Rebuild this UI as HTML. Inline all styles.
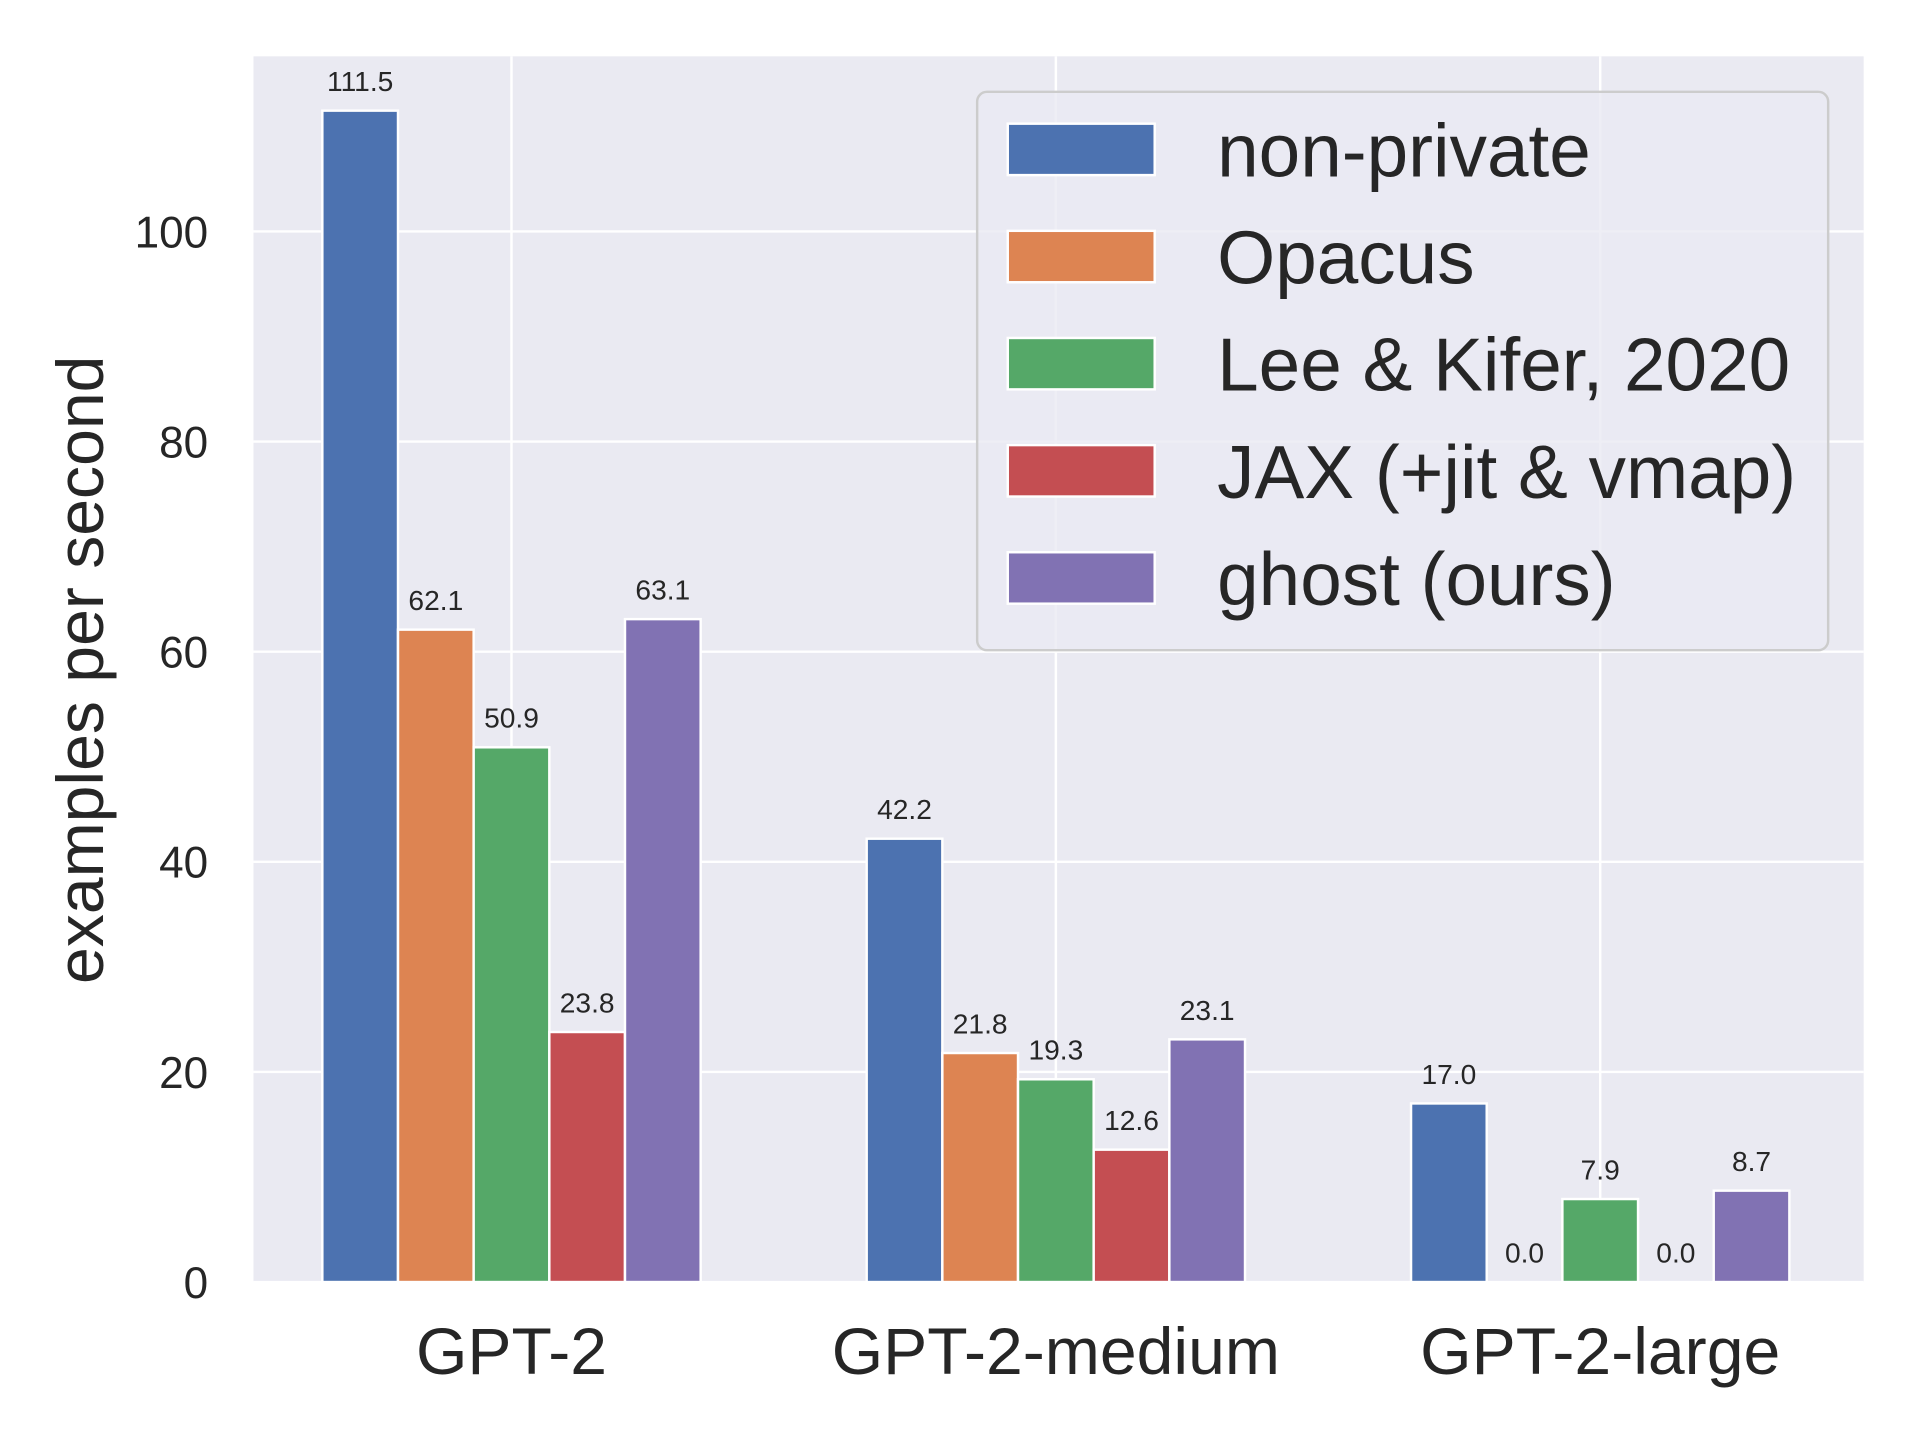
<!DOCTYPE html>
<html><head><meta charset="utf-8"><style>
html,body{margin:0;padding:0;background:#fff;}
svg{display:block;font-family:"Liberation Sans","DejaVu Sans",sans-serif;}
</style></head>
<body>
<svg id="chart" width="1920" height="1440" viewBox="0 0 1568 1176" preserveAspectRatio="none" xmlns="http://www.w3.org/2000/svg">
<rect x="207" y="46" width="1315" height="1001" fill="#eaeaf2"/>
<g id="grid"></g>
<g id="bars"></g>
<g id="labels"></g>
<g id="ticks"></g>
<text transform="translate(84,547) rotate(-90)" text-anchor="middle" font-size="54" fill="#262626">examples per second</text>
<g>
<rect x="798" y="75" width="695" height="456" rx="8" fill="#eaeaf2" fill-opacity="0.8" stroke="#cccccc" stroke-width="2"/>
<g id="legend-items"></g>
</g>
</svg>
<script>
const categories = ["GPT-2","GPT-2-medium","GPT-2-large"];
const seriesNames = ["non-private","Opacus","Lee & Kifer, 2020","JAX (+jit & vmap)","ghost (ours)"];
const seriesColors = ["#4c72b0","#dd8452","#55a868","#c44e52","#8172b3"];
const nonPrivate = [111.5, 42.2, 17.0];
const opacus = [62.1, 21.8, 0.0];
const leeKifer = [50.9, 19.3, 7.9];
const jax = [23.8, 12.6, 0.0];
const ghost = [63.1, 23.1, 8.7];
const yTicks = [0,20,40,60,80,100];
const series = [nonPrivate, opacus, leeKifer, jax, ghost];

const NS="http://www.w3.org/2000/svg";
const L=207,R=1522,T=46,B=1047;
const xMin=-0.474,xMax=2.484,yMin=0,yMax=116.67;
const xs=v=>L+(v-xMin)/(xMax-xMin)*(R-L);
const ys=v=>B-(v-yMin)/(yMax-yMin)*(B-T);
function mk(tag,attrs,parent){const e=document.createElementNS(NS,tag);for(const k in attrs)e.setAttribute(k,attrs[k]);parent.appendChild(e);return e;}
const grid=document.getElementById('grid'),bars=document.getElementById('bars'),labels=document.getElementById('labels'),ticks=document.getElementById('ticks');
yTicks.forEach(t=>{
  const l=mk('line',{x1:L,x2:R,y1:ys(t),y2:ys(t),stroke:'#fff','stroke-width':2},grid);
  
  
  const tx=mk('text',{x:170,y:ys(t)+13,'text-anchor':'end','font-size':36,fill:'#262626'},ticks);
  tx.textContent=t;
  
  
});
const bw=0.139;
categories.forEach((c,i)=>{
  const l=mk('line',{x1:xs(i),x2:xs(i),y1:T,y2:B,stroke:'#fff','stroke-width':2},grid);
  
  
  const tx=mk('text',{x:xs(i),y:1122,'text-anchor':'middle','font-size':54,fill:'#262626'},ticks);
  tx.textContent=c;
  
  
  series.forEach((s,j)=>{
    const cx=i+(j-2)*bw;
    const x0=xs(cx-bw/2),x1=xs(cx+bw/2);
    const v=s[i];
    const r=mk('rect',{x:x0,y:ys(v),width:x1-x0,height:ys(0)-ys(v),fill:seriesColors[j],stroke:'#fff','stroke-width':2},bars);
    
    
    const t=mk('text',{x:xs(cx),y:ys(v)-16,'text-anchor':'middle','font-size':23,fill:'#262626'},labels);
    t.textContent=v.toFixed(1);
    
    
  });
});
const li=document.getElementById('legend-items');
seriesNames.forEach((n,j)=>{
  const cy=122+j*87.5;
  const r=mk('rect',{x:823,y:cy-21,width:120,height:42,fill:seriesColors[j],stroke:'#fff','stroke-width':2},li);
  
  
  const t=mk('text',{x:994,y:cy+22,'font-size':61,fill:'#262626'},li);
  t.textContent=n;
  
  
});
</script>
</body></html>
